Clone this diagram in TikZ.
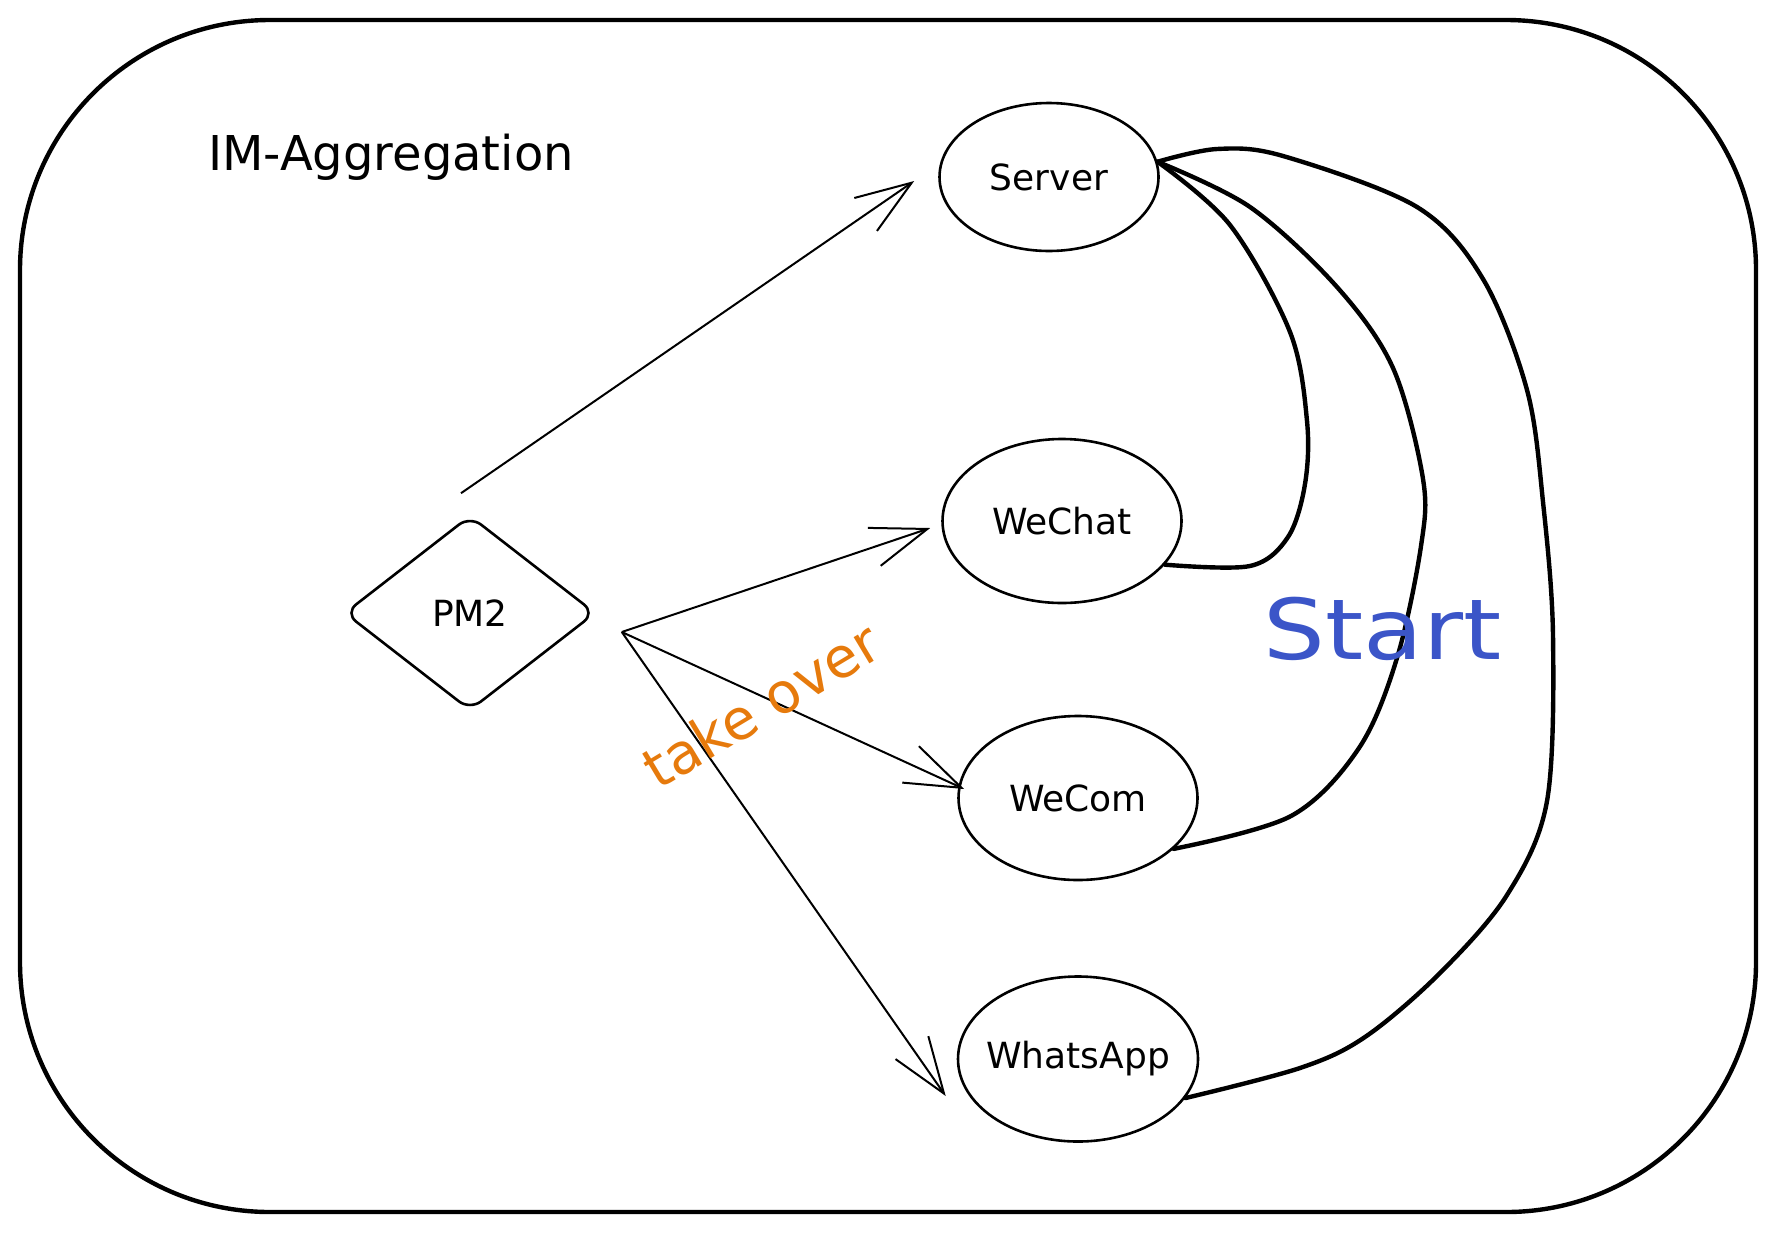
\documentclass[tikz,border=0pt]{standalone}
\usepackage{fontspec}
\usepackage{graphicx}
\setmainfont{DejaVu Sans}
\usetikzlibrary{shapes.geometric,arrows.meta,calc}
\definecolor{startblue}{RGB}{59,85,200}
\definecolor{takeorange}{RGB}{230,122,12}
\begin{document}
\begin{tikzpicture}[x=1pt,y=-1pt,
  box/.style={draw, line width=4.4pt, rounded corners=250pt},
  appnode/.style={ellipse, draw, line width=2.6pt, inner sep=0pt,
    minimum width=239pt, minimum height=164pt, font=\fontsize{36}{40}\selectfont},
  pmnode/.style={diamond, draw, line width=2.6pt, rounded corners=14pt, inner sep=0pt,
    minimum width=251pt, minimum height=195pt, font=\fontsize{36}{40}\selectfont},
  arr/.style={line width=2pt, line join=round,
    -{Straight Barb[length=56pt,width=40pt,line width=2pt]}},
  link/.style={line width=4.4pt, line cap=round, line join=round},
  titletext/.style={font=\fontsize{48}{56}\selectfont, inner sep=0pt},
  starttext/.style={font=\fontsize{84}{96}\selectfont, text=startblue, inner sep=0pt},
  taketext/.style={font=\fontsize{56}{64}\selectfont, text=takeorange, inner sep=0pt}]
\useasboundingbox (0,0) rectangle (1776,1232);
\draw[box] (20,20) rectangle (1756,1212);

% title
\node[titletext, anchor=base west] (title) at (208,170) {IM-Aggregation};

% nodes
\node[appnode, minimum width=219pt, minimum height=148pt] (server) at (1049,177) {\makebox[0pt]{Server}};
\node[appnode] (wechat) at (1062,521) {\makebox[0pt]{WeChat}};
\node[appnode] (wecom) at (1078,798) {\makebox[0pt]{WeCom}};
\node[appnode, minimum width=240pt, minimum height=165pt] (whatsapp) at (1078,1059) {\makebox[0pt]{WhatsApp}};
\node[pmnode] (pm2) at (470,613) {\makebox[0pt]{PM2}};

% arrows
\coordinate (fork) at ($(pm2.east)+(25,19)$);
\draw[arr] ($(pm2.north)+(-9,-21)$) -- ($(server.west)+(-24,4)$);
\draw[arr] (fork) -- ($(wechat.west)+(-11,7)$);
\draw[arr] (fork) -- ($(wecom.west)+(7,-9)$);
\draw[arr] (fork) -- ($(whatsapp.west)+(-11,37)$);

% start links
\draw[link] plot[smooth, tension=0.55] coordinates {(server.8) (1230,225) (1290,332) (1307,421) (1305,484) (1288,537) (1250,566) (wechat.-23)};
\draw[link] plot[smooth, tension=0.55] coordinates {(server.8) (1250,207) (1337,287) (1393,368) (1423,479) (1421,546) (1397,658) (1359,748) (1291,816) (wecom.-28)};
\draw[link] plot[smooth, tension=0.55] coordinates {(server.8) (1217,149) (1283,156) (1417,207) (1483,279) (1527,390) (1543,502) (1553,636) (1547,801) (1507,895) (1439,974) (1365,1037) (1300,1068) (whatsapp.-20)};

% labels
\node[starttext, anchor=base west] (start) at (1263,659) {\scalebox{1.16}[1]{Start}};
\node[taketext, rotate=31] (take) at (761,705) {take over};
\end{tikzpicture}
\end{document}
